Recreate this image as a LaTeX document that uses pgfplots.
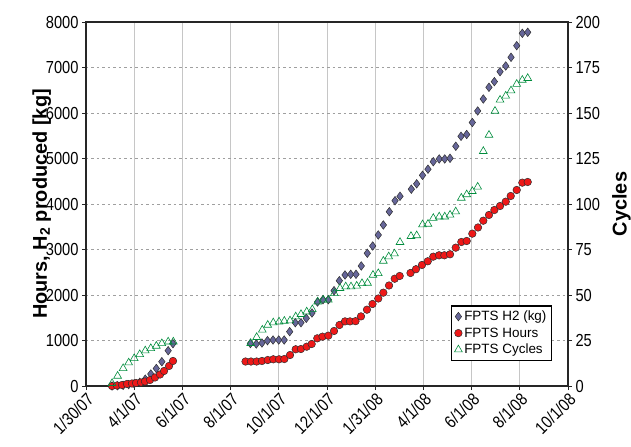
\documentclass[border=0pt]{standalone}
\usepackage{fontspec}
\setmainfont{Liberation Sans}
\newfontfamily\narrowfont[FakeStretch=0.84]{Liberation Sans}
\usepackage{pgfplots}
\usepackage{pgfplotstable}
\pgfplotsset{compat=1.18}
\definecolor{dia}{RGB}{102,102,153}
\definecolor{circ}{RGB}{238,24,24}
\definecolor{tri}{RGB}{0,140,60}
\definecolor{edge}{RGB}{45,45,45}

\pgfplotstableread{
d v
33 0
40 5
47 15
54 30
61 50
68 80
75 150
82 264
89 385
96 534
104 776
110 930
208 934
215.5 923
222.7 945
229.7 996
236.7 1011
243.9 1011
250.8 1011
257.8 1194
264.9 1391
272.1 1391
278.8 1488
286 1605
293 1846
299.9 1897
306.7 1897
313.9 2095
320.6 2314
327.8 2440
335 2455
341.7 2455
348.4 2638
356 2917
362.8 3077
369.9 3319
376.3 3539
383.9 3831
391.1 4073
397.4 4170
411.7 4326
418.5 4444
425.9 4631
432.8 4765
439.5 4930
447 4990
454 4990
460.7 5005
468 5269
474.6 5488
481.8 5528
488.9 5792
495.7 6045
502.8 6308
510 6565
516.8 6689
524 6908
531.2 7034
537.9 7225
545.1 7480
552.2 7752
559 7774
}\htwo

\pgfplotstableread{
d v
32.9 0
39.2 11
45.6 22
51.9 44
58.2 55
63.3 66
69.6 77
74.7 99
81 132
87.3 187
93.7 253
98.8 330
105.1 440
110.1 550
201.9 538
208.8 538
216 538
222.7 550
230 571
237 587
244.3 587
251 593
258.2 681
265.4 807
272 813
279.3 864
285.6 923
292.7 1048
299.3 1084
306.7 1106
313.9 1209
320.8 1341
327.8 1420
334.1 1420
341.1 1425
348 1530
355.6 1677
362.6 1802
369.9 1923
376.3 2051
383.5 2209
390.7 2358
397 2418
410.7 2484
417.6 2567
425.2 2660
432.5 2741
439.5 2842
446.8 2873
453.5 2873
460.7 2895
467.9 3040
475 3165
481.8 3187
488.9 3348
496.1 3484
502.8 3633
510 3759
516.8 3868
524 3956
531.2 4051
537.5 4176
545.1 4308
552.2 4469
559 4484
}\hours

\pgfplotstableread{
d v
33 1.5
40 5.5
47 9.7
54 12.8
61 15.2
68 17.4
75 19.4
82 20.7
89 22
96 23.4
104 24.3
110.5 24.3
208.4 23.5
216 26.8
223.1 30.8
230 33.5
237 34.8
244.3 35.3
251 35.7
258.2 35.9
265.4 38.1
272.1 39.4
279.3 40.8
286.4 42.1
293.2 46.3
300.3 47.3
306.7 47.3
314.3 50.9
321.5 53.7
328.7 54.6
335.4 54.6
342.6 55
349.3 56.4
356.3 56.6
363.2 61
369.9 61.9
376.3 68.7
383.1 71.1
390.4 72.7
397.4 79
411.3 82.3
418.5 82.7
425.9 88.7
432.8 89
439.5 92.2
447 93
454 93
460.7 94
467.9 95.8
475 103.3
481.8 105.2
488.9 107
495.7 109.4
502.8 129
510 137.9
517.6 151.1
524 157.2
531.2 159.4
537.9 162.3
545.1 165.9
552.2 168.1
559 169.1
}\cycles

\pgfplotsset{
  diastyle/.style={only marks, mark=diamond*, mark size=4.3pt, mark options={fill=dia, draw=edge, line width=0.5pt}},
  circstyle/.style={only marks, mark=*, mark size=3.8pt, mark options={fill=circ, draw=edge, line width=0.5pt}},
  tristyle/.style={only marks, mark=triangle, mark size=4.5pt, mark options={draw=tri, line width=0.6pt}},
  common/.style={
    at={(0,0)}, anchor=south west, scale only axis,
    width=482bp, height=364bp,
    xmin=0, xmax=610, clip=false,
    tick align=outside, major tick length=4bp,
    tick label style={font=\narrowfont\fontsize{17.5}{17.5}\selectfont},
    /pgf/number format/assume math mode=true,
    /pgf/number format/1000 sep={},
    scaled y ticks=false,
    axis line style={line width=1.4pt, black!85},
    major tick style={line width=0.8pt, black!85},
  }
}

\begin{document}
\begin{tikzpicture}
\path[use as bounding box] (-86bp,-61bp) rectangle (545bp,386bp);
\begin{axis}[common,
  ymin=0, ymax=8000,
  xtick={0,61,122,183,244,305,366,427,488,549,610},
  xticklabels={1/30/07,4/1/07,6/1/07,8/1/07,10/1/07,12/1/07,1/31/08,4/1/08,6/1/08,8/1/08,10/1/08},
  ytick={0,1000,2000,3000,4000,5000,6000,7000,8000},
  xtick pos=bottom, ytick pos=left,
  xticklabel style={rotate=45, anchor=north east, inner sep=1pt},
  xmajorgrids, ymajorgrids,
  x grid style={gray!45, line width=0.8pt},
  y grid style={gray!75, dash pattern=on 2.5pt off 3pt, line width=0.6pt},
  ylabel={Hours, H\textsubscript{2} produced [kg]},
  every axis y label/.style={at={(axis description cs:-0.092,0.5)}, rotate=90, anchor=center, font=\bfseries\fontsize{20}{20}\selectfont},
]
\addplot[diastyle] table[x=d, y=v] {\htwo};
\addplot[circstyle] table[x=d, y=v] {\hours};
\end{axis}
\begin{axis}[common,
  ymin=0, ymax=200,
  ytick={0,25,50,75,100,125,150,175,200},
  axis x line=none, axis y line*=right, ytick pos=right,
  ylabel={Cycles},
  every axis y label/.style={at={(axis description cs:1.111,0.5)}, rotate=90, anchor=center, font=\bfseries\fontsize{20}{20}\selectfont},
  legend style={at={(rel axis cs:0.967,0.069)}, anchor=south east, draw=black, line width=1.3pt,
    font=\fontsize{13.5}{15}\selectfont, inner sep=3pt, row sep=1.5pt},
  legend cell align=left,
]
\addlegendimage{diastyle}
\addlegendentry{FPTS H2 (kg)}
\addlegendimage{circstyle}
\addlegendentry{FPTS Hours}
\addplot[tristyle] table[x=d, y=v] {\cycles};
\addlegendentry{FPTS Cycles}
\end{axis}
\end{tikzpicture}
\end{document}
